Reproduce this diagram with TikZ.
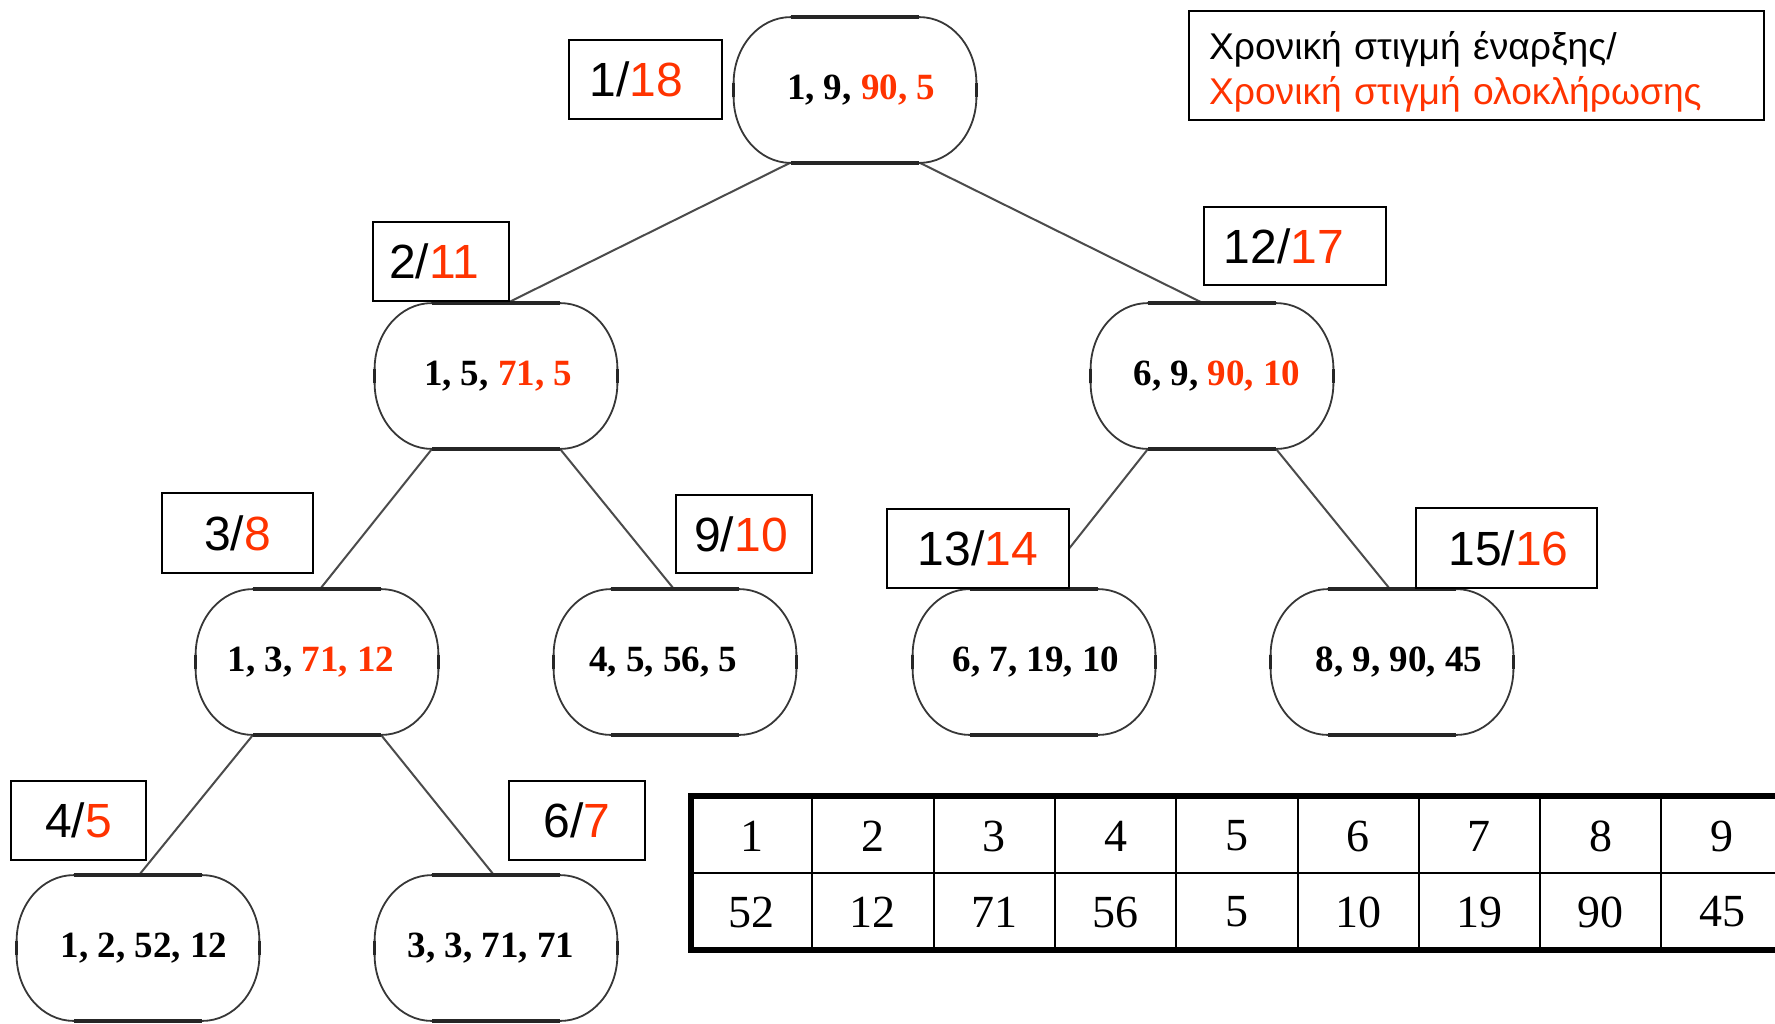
\documentclass[tikz,border=0pt]{standalone}
\usepackage{fontspec}
\setmainfont{Liberation Serif}
\newfontfamily\sansf{Liberation Sans}
\usetikzlibrary{calc}
\definecolor{hl}{RGB}{255,51,0}
\definecolor{outlc}{RGB}{55,55,55}
\definecolor{edgec}{RGB}{75,75,75}
\newcommand\capsuleoutline[1]{%
 \draw[outl line] ($(#1.north west)+(28.5pt,0)$) -- ($(#1.north east)+(-28.5pt,0)$)
   arc[start angle=90,end angle=0,x radius=28.5pt,y radius=33pt]
   -- ($(#1.south east)+(0,33pt)$)
   arc[start angle=0,end angle=-90,x radius=28.5pt,y radius=33pt]
   -- ($(#1.south west)+(28.5pt,0)$)
   arc[start angle=-90,end angle=-180,x radius=28.5pt,y radius=33pt]
   -- ($(#1.north west)+(0,-33pt)$)
   arc[start angle=180,end angle=90,x radius=28.5pt,y radius=33pt] -- cycle;
 \draw[flat line] ($(#1.north west)+(28.5pt,0)$) -- ($(#1.north east)+(-28.5pt,0)$);
 \draw[flat line] ($(#1.south west)+(28.5pt,0)$) -- ($(#1.south east)+(-28.5pt,0)$);
 \draw[flat line] ($(#1.north west)+(0,-33pt)$) -- ($(#1.south west)+(0,33pt)$);
 \draw[flat line] ($(#1.north east)+(0,-33pt)$) -- ($(#1.south east)+(0,33pt)$);
}
% shift text centre by #1 px (1px = 0.5pt, kern of #1 pt shifts centre by #1 px)
\newcommand\tx[2]{\ifdim#1pt>0pt\kern#1pt\fi#2\ifdim#1pt<0pt\kern-#1pt\fi}
\begin{document}
\begin{tikzpicture}[x=0.5pt,y=0.5pt,
  capsule/.style={minimum width=121pt, minimum height=72.5pt, inner sep=0pt,
    font=\fontsize{18.5}{22}\selectfont\bfseries},
  outl line/.style={draw=outlc, line width=0.9pt},
  flat line/.style={draw=black!85, line width=1.8pt},
  edge/.style={draw=edgec, line width=1pt},
  lbl/.style={draw=black, line width=1pt, fill=white, inner sep=0pt,
    font=\sansf\fontsize{24}{28}\selectfont},
  tabcell/.style={inner sep=0pt, font=\fontsize{23}{27}\selectfont},
  tabin/.style={draw=black, line width=1pt},
  tabout/.style={draw=black, line width=2.8pt, line join=miter}
]
\path[use as bounding box] (0,0) rectangle (1775,-1023);
\clip (0,0) rectangle (1775,-1023);

% tree nodes
\node[capsule] (root) at (855,-90)  {\tx{6}{1, 9, \textcolor{hl}{90, 5}}};
\node[capsule] (A)    at (496,-376) {\tx{2}{1, 5, \textcolor{hl}{71, 5}}};
\node[capsule] (B)    at (1212,-376){\tx{5}{6, 9, \textcolor{hl}{90, 10}}};
\node[capsule] (C)    at (317,-662) {\tx{-6}{1, 3, \textcolor{hl}{71, 12}}};
\node[capsule] (D)    at (675,-662) {\tx{-12}{4, 5, 56, 5}};
\node[capsule] (E)    at (1034,-662){\tx{2}{6, 7, 19, 10}};
\node[capsule] (F)    at (1392,-662){\tx{7}{8, 9, 90, 45}};
\node[capsule] (G)    at (138,-948) {\tx{6}{1, 2, 52, 12}};
\node[capsule] (H)    at (496,-948) {\tx{-5}{3, 3, 71, 71}};

% connectors
\draw[edge] ($(root.south)+(-65,0)$) -- ($(A.north)+(11,0)$);
\draw[edge] ($(root.south)+(65,0)$)  -- ($(B.north)+(-9,0)$);
\draw[edge] ($(A.south)+(-64,0)$) -- ($(C.north)+(3,0)$);
\draw[edge] ($(A.south)+(64,0)$)  -- ($(D.north)+(-1,0)$);
\draw[edge] ($(B.south)+(-64,0)$) -- ($(E.north)+(3,0)$);
\draw[edge] ($(B.south)+(64,0)$)  -- ($(F.north)+(-2,0)$);
\draw[edge] ($(C.south)+(-64,0)$) -- ($(G.north)+(1,0)$);
\draw[edge] ($(C.south)+(64,0)$)  -- ($(H.north)+(-2,0)$);

% node outlines
\foreach \n in {root,A,B,C,D,E,F,G,H} {\capsuleoutline{\n}}

% time labels
\node[lbl, minimum width=76.5pt, minimum height=39.5pt] (l1) at (645.5,-79.5) {\tx{-9}{1/\textcolor{hl}{18}}};
\node[lbl, minimum width=68pt,   minimum height=39.5pt] (l2) at (441,-261.5)  {\tx{-7}{2/\textcolor{hl}{11}}};
\node[lbl, minimum width=91pt,   minimum height=39pt]   (l3) at (1295,-246)   {\tx{-11}{12/\textcolor{hl}{17}}};
\node[lbl, minimum width=75.5pt, minimum height=40pt]   (l4) at (237.5,-533)  {3/\textcolor{hl}{8}};
\node[lbl, minimum width=68pt,   minimum height=39pt]   (l5) at (744,-534)    {\tx{-3}{9/\textcolor{hl}{10}}};
\node[lbl, minimum width=91pt,   minimum height=39.5pt] (l6) at (978,-548.5)  {13/\textcolor{hl}{14}};
\node[lbl, minimum width=90.5pt, minimum height=40pt]   (l7) at (1506.5,-548) {\tx{2}{15/\textcolor{hl}{16}}};
\node[lbl, minimum width=67.5pt, minimum height=39.5pt] (l8) at (78.5,-820.5) {4/\textcolor{hl}{5}};
\node[lbl, minimum width=68pt,   minimum height=39.5pt] (l9) at (577,-820.5)  {6/\textcolor{hl}{7}};

% legend
\node[draw=black, line width=1pt, fill=white, minimum height=54.5pt, inner ysep=0pt,
      inner xsep=10pt, text width=267.5pt, align=left,
      font=\sansf\fontsize{18.6}{22.5}\selectfont] (legend) at (1476.5,-65.5)
  {\rule{0pt}{20pt}Χρονική στιγμή έναρξης/\\\textcolor{hl}{Χρονική στιγμή ολοκλήρωσης}};

% table
\foreach \i/\a/\b in {1/1/52,2/2/12,3/3/71,4/4/56,5/5/5,6/6/10,7/7/19,8/8/90,9/9/45} {
  \node[tabcell] (c\i) at ({691+121.3*(\i-0.5)},-836) {\a};
  \node[tabcell] (v\i) at ({691+121.3*(\i-0.5)},-912) {\b};
}
\foreach \k in {1,...,9} {\draw[tabin] ({691+121.3*\k},-796) -- ({691+121.3*\k},-950);}
\draw[tabin] (691,-873) -- (1800,-873);
\draw[tabout] (1800,-796) -- (691,-796) -- (691,-950) -- (1800,-950);
\end{tikzpicture}
\end{document}
